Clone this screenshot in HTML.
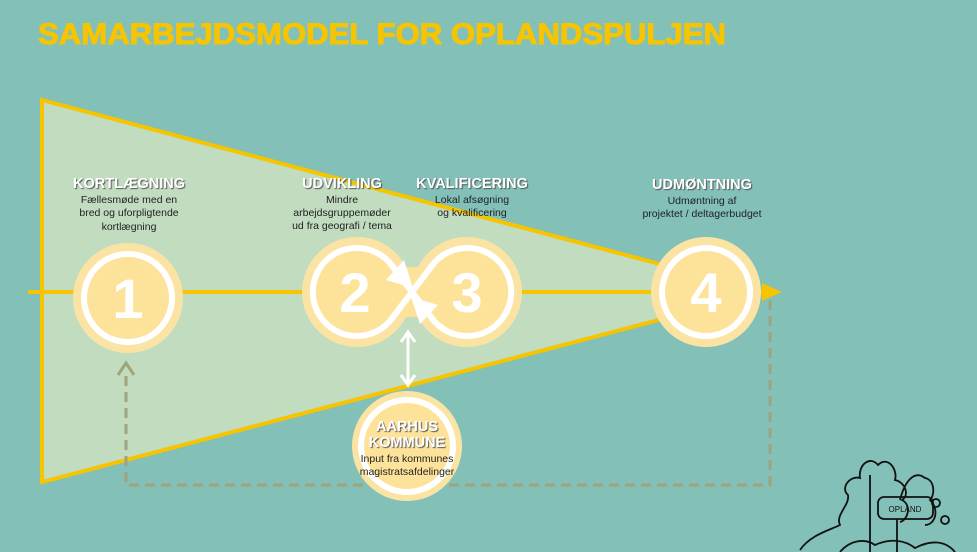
<!DOCTYPE html>
<html><head><meta charset="utf-8"><style>
html,body{margin:0;padding:0;background:#82c0b8;}
svg{display:block;}
.lab{font-family:"Liberation Sans",sans-serif;font-weight:bold;font-size:14.5px;fill:#fff;text-shadow:1px 1px 1px #555;}
.sm{font-family:"Liberation Sans",sans-serif;font-size:10.5px;fill:#222;}
.num{font-family:"Liberation Sans",sans-serif;font-weight:bold;font-size:56px;fill:#fff;}
</style></head><body>
<svg width="977" height="552" viewBox="0 0 977 552" xmlns="http://www.w3.org/2000/svg">
<rect width="977" height="552" fill="#82c0b8"/>
<text x="38" y="44" font-family="Liberation Sans,sans-serif" font-weight="bold" font-size="30" fill="#f6c400" stroke="#f6c400" stroke-width="1" textLength="688" lengthAdjust="spacingAndGlyphs">SAMARBEJDSMODEL FOR OPLANDSPULJEN</text>
<polygon points="42,100 765,292 42,482" fill="#c2dcc0" stroke="#f6c400" stroke-width="4"/>
<line x1="28" y1="292" x2="768" y2="292" stroke="#f6c400" stroke-width="4"/>
<polygon points="782,292 762,283 762,301" fill="#f6c400"/>
<path d="M770,300 V485 H126 V372" fill="none" stroke="#9ea57c" stroke-width="3" stroke-dasharray="10,6"/>
<polyline points="118,375 126,363 134,375" fill="none" stroke="#9ea57c" stroke-width="3"/>
<circle cx="128" cy="298" r="55" fill="#fbe4a3"/><circle cx="128" cy="298" r="44" fill="#fde39a" stroke="#fff" stroke-width="6"/>
<text class="num" x="128" y="318" text-anchor="middle">1</text>
<circle cx="357" cy="292" r="55" fill="#fbe4a3"/>
<circle cx="467" cy="292" r="55" fill="#fbe4a3"/>
<circle cx="357" cy="292" r="44" fill="#fde39a"/>
<circle cx="467" cy="292" r="44" fill="#fde39a"/>
<polygon points="393,267 431,267 431,317 393,317" fill="#fde39a"/>
<path d="M393,267 A44,44 0 1 0 393,317 L431,267 A44,44 0 1 1 431,317 Z" fill="none" stroke="#fff" stroke-width="6" stroke-linejoin="round"/>
<polygon points="413,288 386,280 404,260" fill="#fff"/>
<polygon points="411,297 438,305 420,324" fill="#fff"/>
<text class="num" x="355" y="312" text-anchor="middle">2</text>
<text class="num" x="467" y="312" text-anchor="middle">3</text>
<circle cx="706" cy="292" r="55" fill="#fbe4a3"/><circle cx="706" cy="292" r="44" fill="#fde39a" stroke="#fff" stroke-width="6"/>
<text class="num" x="706" y="312" text-anchor="middle">4</text>
<line x1="408" y1="335" x2="408" y2="382" stroke="#fff" stroke-width="3"/>
<polyline points="401,342 408,332 415,342" fill="none" stroke="#fff" stroke-width="3"/>
<polyline points="401,375 408,385 415,375" fill="none" stroke="#fff" stroke-width="3"/>
<circle cx="407" cy="446" r="55" fill="#fbe4a3"/><circle cx="407" cy="446" r="46" fill="#fde39a" stroke="#fff" stroke-width="6"/>
<text class="lab" x="407" y="431" text-anchor="middle">AARHUS</text>
<text class="lab" x="407" y="447" text-anchor="middle">KOMMUNE</text>
<text class="sm" x="407" y="462" text-anchor="middle">Input fra kommunes</text>
<text class="sm" x="407" y="475" text-anchor="middle">magistratsafdelinger</text>
<text class="lab" x="129" y="188" text-anchor="middle">KORTLÆGNING</text>
<text class="sm" x="129" y="203" text-anchor="middle">Fællesmøde med en</text>
<text class="sm" x="129" y="216" text-anchor="middle">bred og uforpligtende</text>
<text class="sm" x="129" y="230" text-anchor="middle">kortlægning</text>
<text class="lab" x="342" y="188" text-anchor="middle">UDVIKLING</text>
<text class="sm" x="342" y="203" text-anchor="middle">Mindre</text>
<text class="sm" x="342" y="216" text-anchor="middle">arbejdsgruppemøder</text>
<text class="sm" x="342" y="229" text-anchor="middle">ud fra geografi / tema</text>
<text class="lab" x="472" y="188" text-anchor="middle">KVALIFICERING</text>
<text class="sm" x="472" y="203" text-anchor="middle">Lokal afsøgning</text>
<text class="sm" x="472" y="216" text-anchor="middle">og kvalificering</text>
<text class="lab" x="702" y="189" text-anchor="middle">UDMØNTNING</text>
<text class="sm" x="702" y="204" text-anchor="middle">Udmøntning af</text>
<text class="sm" x="702" y="217" text-anchor="middle">projektet / deltagerbudget</text>
<g fill="none" stroke="#111" stroke-width="1.8">
<path d="M800,550 C810,535 830,530 840,525 C835,515 850,505 848,495 C840,488 850,475 860,478 C858,465 870,455 878,465 C888,455 898,470 895,480 C905,482 910,495 902,500 C912,505 908,520 900,522"/>
<path d="M870,475 V552"/>
<path d="M900,500 C905,480 915,470 925,478 C935,480 935,495 930,500 C940,510 935,525 925,525"/>
<rect x="878" y="497" width="55" height="22" rx="6"/>
<path d="M897,519 V552"/>
<path d="M840,552 C850,540 865,538 875,545 C890,538 905,540 915,548 C930,540 945,540 955,552"/>
<circle cx="936" cy="503" r="4"/><circle cx="945" cy="520" r="4"/>
</g>
<text x="905" y="512" font-family="Liberation Sans,sans-serif" font-size="8" fill="#111" text-anchor="middle">OPLAND</text>
</svg>
</body></html>
